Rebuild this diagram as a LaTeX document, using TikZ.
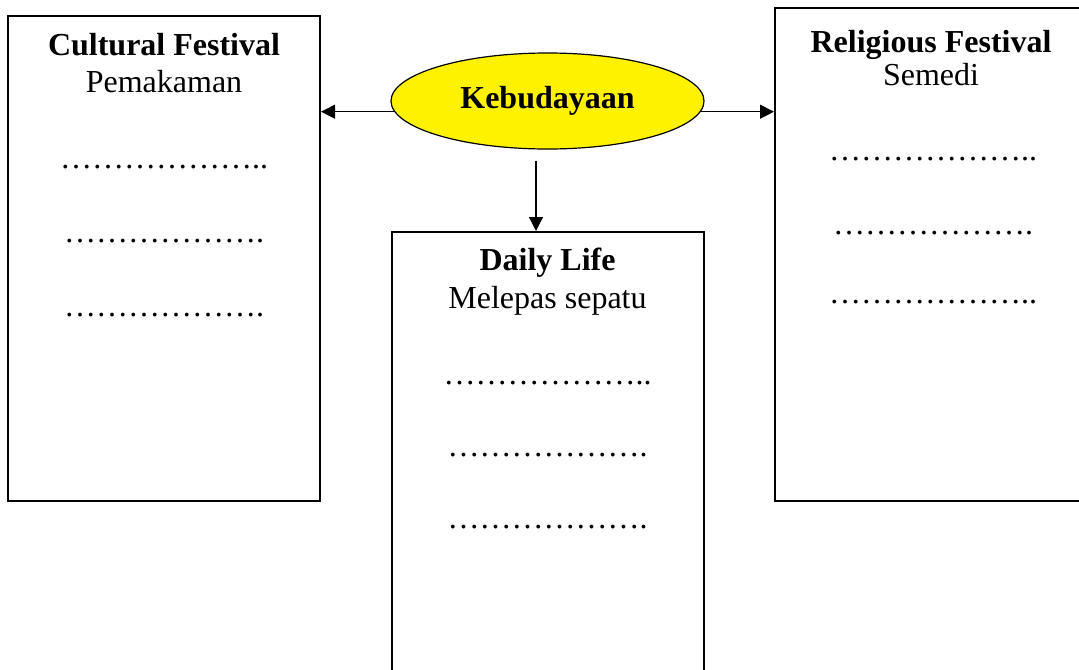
\documentclass[tikz,border=0pt]{standalone}
\usepackage{fontspec}
\setmainfont{Liberation Serif}
\usetikzlibrary{shapes.geometric,arrows.meta}

\tikzset{
  panel/.style={draw, line width=1pt, inner sep=0pt, minimum width=156pt},
  hub/.style={ellipse, draw, line width=0.6pt, fill=yellow, inner sep=0pt,
              minimum width=156.5pt, minimum height=48pt,
              font=\fontsize{16}{19}\selectfont\bfseries},
  head/.style={anchor=base, inner sep=0pt, font=\fontsize{16}{19}\selectfont\bfseries},
  item/.style={anchor=base, inner sep=0pt, font=\fontsize{16}{19}\selectfont},
}

\begin{document}
\begin{tikzpicture}[x=0.5pt, y=-0.5pt, >={Triangle[length=7pt,width=7pt]}]

    \useasboundingbox (0,0) rectangle (1079,669);
    \clip (0,0) rectangle (1079,669);

    % The three boxes
    \node[panel, minimum height=242.5pt] (cult) at (164,258.5) {};
    \node[panel, minimum height=246.5pt] (reli) at (931,254.5) {};
    \node[panel, minimum height=240pt] (daily) at (547.5,472) {};

    % Central ellipse
    \node[hub] (kb) at (547.5,101) {Kebudayaan};

    % Arrows out of the ellipse
    \draw[->, line width=0.6pt] (kb.184) -- (kb.184 -| cult.east);
    \draw[->, line width=0.6pt] (kb.-4) -- (kb.-4 -| reli.west);
    \coordinate (kbD) at ([xshift=-5.75pt, yshift=-5.5pt]kb.south);
    \draw[->, line width=0.6pt] (kbD) -- (kbD |- daily.north);

    % Left box: Cultural Festival
    \node[head] (cultH) at (164,55) {Cultural Festival};
    \node[item] (cultA) at (164,92) {Pemakaman};
    \node[item] (cultB) at (164,168) {………………..};
    \node[item] (cultC) at (164,242) {……………….};
    \node[item] (cultD) at (164,316) {……………….};

    % Right box: Religious Festival
    \node[head] (reliH) at (931,52) {Religious Festival};
    \node[item] (reliA) at (931,85) {Semedi};
    \node[item] (reliB) at (933,160) {………………..};
    \node[item] (reliC) at (933,234) {……………….};
    \node[item] (reliD) at (933,303) {………………..};

    % Middle box: Daily Life
    \node[head] (dailyH) at (547.5,270) {Daily Life};
    \node[item] (dailyA) at (547.5,308) {Melepas sepatu};
    \node[item] (dailyB) at (547.5,384) {………………..};
    \node[item] (dailyC) at (547.5,456) {……………….};
    \node[item] (dailyD) at (547.5,528) {……………….};

\end{tikzpicture}
\end{document}
